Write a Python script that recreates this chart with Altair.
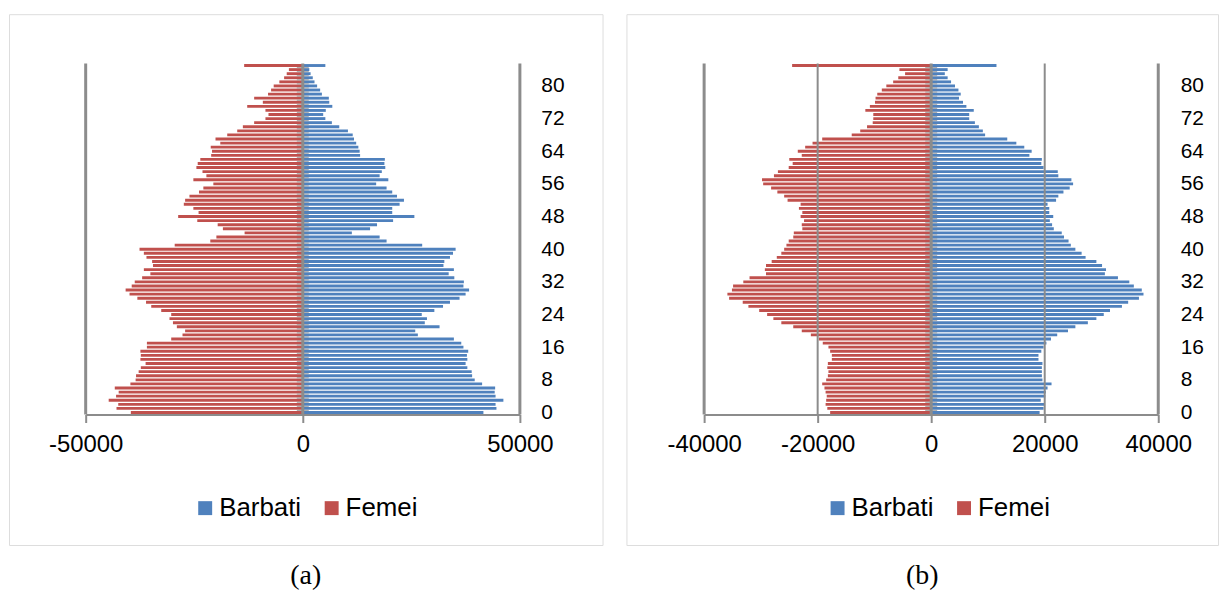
import altair as alt
import pandas as pd

ages = list(range(86))
sexes = ["Barbati", "Femei"]
colors = ["#4F81BD", "#C0504D"]

# ---- panel (a) values, ages 0..85 ----
a_barbati = [41600, 44600, 44400, 46200, 44400, 44200, 44300, 41300, 39600, 39000,
             38900, 37900, 37500, 37900, 37800, 38100, 37000, 36500, 34800, 26500,
             25900, 31500, 28100, 28600, 27400, 30300, 32300, 33900, 36100, 37500,
             38300, 37000, 37100, 34900, 33600, 34800, 32400, 32600, 33900, 34600,
             35200, 27500, 19300, 17700, 11300, 15500, 17100, 20800, 25700, 20600,
             20600, 22300, 23300, 21700, 20600, 19300, 16900, 19700, 17700, 18200,
             19000, 18800, 18900, 13200, 13100, 12800, 12300, 11800, 11500, 10400,
             8400, 6700, 5200, 4700, 5300, 6800, 6100, 6000, 4400, 4000,
             3300, 2700, 2300, 1800, 1500, 5200]
a_femei = [39600, 42900, 42500, 44700, 43000, 42400, 43300, 39700, 38500, 38400,
           37800, 37300, 36200, 37400, 37300, 37400, 35900, 35900, 30300, 27700,
           27100, 29000, 29900, 30700, 30300, 32600, 34900, 36100, 38100, 39900,
           40800, 39400, 38700, 37000, 35100, 36600, 34500, 34700, 36000, 36600,
           37600, 29500, 21300, 19900, 13400, 18400, 19600, 24300, 28700, 24000,
           25200, 27400, 27100, 26100, 23900, 22900, 20600, 25200, 22200, 23100,
           24500, 24200, 23600, 21100, 20900, 21200, 19000, 20100, 17400, 15100,
           13800, 11200, 8600, 7900, 8600, 12800, 9200, 11200, 8000, 7300,
           6700, 5400, 4300, 3700, 3200, 13500]

# ---- panel (b) values, ages 0..85 ----
b_barbati = [19100, 19800, 20000, 19300, 20100, 20200, 20500, 21200, 19600, 19500,
             19500, 19500, 19600, 18900, 18900, 19400, 19800, 20300, 21100, 22200,
             24100, 25400, 27600, 29100, 30400, 31500, 33600, 34700, 36600, 37400,
             37100, 35700, 34900, 32900, 30600, 30800, 30100, 29100, 27200, 26500,
             25400, 24600, 24200, 23400, 23000, 21600, 21300, 20900, 21500, 20800,
             20800, 20500, 22000, 22400, 23300, 24400, 25000, 24700, 22400, 22300,
             19800, 19400, 19500, 17300, 17700, 16400, 15000, 13400, 9500, 9100,
             8400, 7700, 6700, 6700, 7500, 6200, 5600, 4900, 5200, 4800,
             4200, 3500, 2900, 2400, 2900, 11500]
b_femei = [17800, 18300, 18600, 18500, 18400, 18600, 18800, 19200, 18500, 18200,
           18100, 18300, 18200, 17500, 17500, 17800, 18100, 19100, 19800, 21200,
           22800, 24300, 26400, 27800, 28900, 30300, 32200, 33200, 35600, 35900,
           35100, 34900, 33100, 32000, 29100, 29300, 29100, 28100, 27200, 26400,
           25900, 25500, 25100, 24300, 24200, 22700, 22800, 22400, 23000, 22700,
           23300, 23000, 25300, 25900, 27100, 28200, 29600, 29800, 27700, 27000,
           25100, 24400, 25000, 22800, 23500, 22200, 20900, 19200, 14000, 12500,
           11300, 10300, 10200, 10200, 11600, 10800, 9900, 9800, 9500, 8700,
           7900, 6700, 5800, 4600, 5600, 24500]

a_ticks = [-50000, 0, 50000]
a_grid_major = [-50000, 50000]
a_grid_minor = []
b_ticks = [-40000, -20000, 0, 20000, 40000]
b_grid_major = [-40000, 40000]
b_grid_minor = [-20000, 20000]
age_labels = [0, 8, 16, 24, 32, 40, 48, 56, 64, 72, 80]

GRAY = "#8C8C8C"
FONT = "Liberation Sans"


def panel(barb, fem, width, xdom, xrange, ticks, grid_major, grid_minor,
          ylab_offset, legend_x, caption):
    rows = []
    for age, m, f in zip(ages, barb, fem):
        rows.append({"age": age, "sex": "Barbati", "value": m})
        rows.append({"age": age, "sex": "Femei", "value": -f})
    df = pd.DataFrame(rows)

    xs = alt.Scale(domain=xdom, range=xrange, nice=False, padding=0)
    ys = alt.Scale(domain=[-0.5, 85.5], range=[402, 49.5], nice=False, zero=False,
                   padding=0)

    bars = alt.Chart(df).mark_bar(orient="horizontal", height=2.9).encode(
        x=alt.X("value:Q", scale=xs,
                axis=alt.Axis(values=ticks, title=None, grid=False,
                              labelExpr="'' + datum.value",
                              domainColor=GRAY, domainWidth=2,
                              tickColor=GRAY, tickWidth=2, tickSize=8,
                              labelFont=FONT, labelFontSize=24, labelColor="black",
                              labelPadding=10, offset=-131, labelFlush=False)),
        x2=alt.datum(0),
        y=alt.Y("age:Q", scale=ys,
                axis=alt.Axis(orient="right", values=age_labels, title=None,
                              grid=False, domain=False, ticks=False, tickSize=0,
                              labelFont=FONT, labelFontSize=21, labelColor="black",
                              labelAlign="left", labelBaseline="middle",
                              labelPadding=0, offset=ylab_offset)),
        color=alt.Color("sex:N",
                        scale=alt.Scale(domain=sexes, range=colors),
                        legend=alt.Legend(orient="none", legendX=legend_x, legendY=483,
                                          direction="horizontal", title=None,
                                          symbolType="square", symbolSize=196,
                                          symbolStrokeWidth=0, labelFont=FONT,
                                          labelFontSize=26, labelColor="black",
                                          labelOffset=1, columnPadding=17, padding=0)),
    )

    layers = [bars]
    major = alt.Chart(pd.DataFrame({"g": grid_major})).mark_rule(
        color=GRAY, strokeWidth=3).encode(
        x=alt.X("g:Q", scale=xs), y=alt.datum(-0.5), y2=alt.datum(85.5))
    layers.append(major)
    if grid_minor:
        minor = alt.Chart(pd.DataFrame({"g": grid_minor})).mark_rule(
            color=GRAY, strokeWidth=2).encode(
            x=alt.X("g:Q", scale=xs), y=alt.datum(-0.5), y2=alt.datum(85.5))
        layers.append(minor)
    center = alt.Chart(pd.DataFrame({"g": [0]})).mark_rule(
        color=GRAY, strokeWidth=3).encode(
        x=alt.X("g:Q", scale=xs), y=alt.datum(-0.5), y2=alt.datum(85.5))
    layers.append(center)
    tick_df = pd.DataFrame({"age": ages})
    cticks = alt.Chart(tick_df).transform_calculate(b="datum.age - 0.5").mark_tick(
        orient="horizontal", color=GRAY, size=12, thickness=1.2).encode(
        x=alt.datum(0), y=alt.Y("b:Q", scale=ys))
    layers.append(cticks)

    return alt.layer(*layers).properties(
        width=width, height=533,
        title=alt.TitleParams(caption, orient="bottom", anchor="middle",
                              font="Liberation Serif", fontSize=28,
                              fontWeight="normal", color="black", offset=17),
    )


pa = panel(a_barbati, a_femei, 596, [-50000, 50000], [77, 513], a_ticks,
           a_grid_major, a_grid_minor, -62, 184, "(a)")
pb = panel(b_barbati, b_femei, 594, [-40000, 40000], [78, 534], b_ticks,
           b_grid_major, b_grid_minor, -38, 199, "(b)")

chart = alt.hconcat(pa, pb, spacing=22).resolve_scale(
    color="shared").resolve_legend(color="independent").configure_view(
    stroke="#8F8F8F", strokeWidth=2).properties(
    padding={"left": 0, "top": 4, "right": 0, "bottom": 0}).configure(
    background="white")

chart.save("out.html", embed_options={"renderer": "svg", "actions": False})
